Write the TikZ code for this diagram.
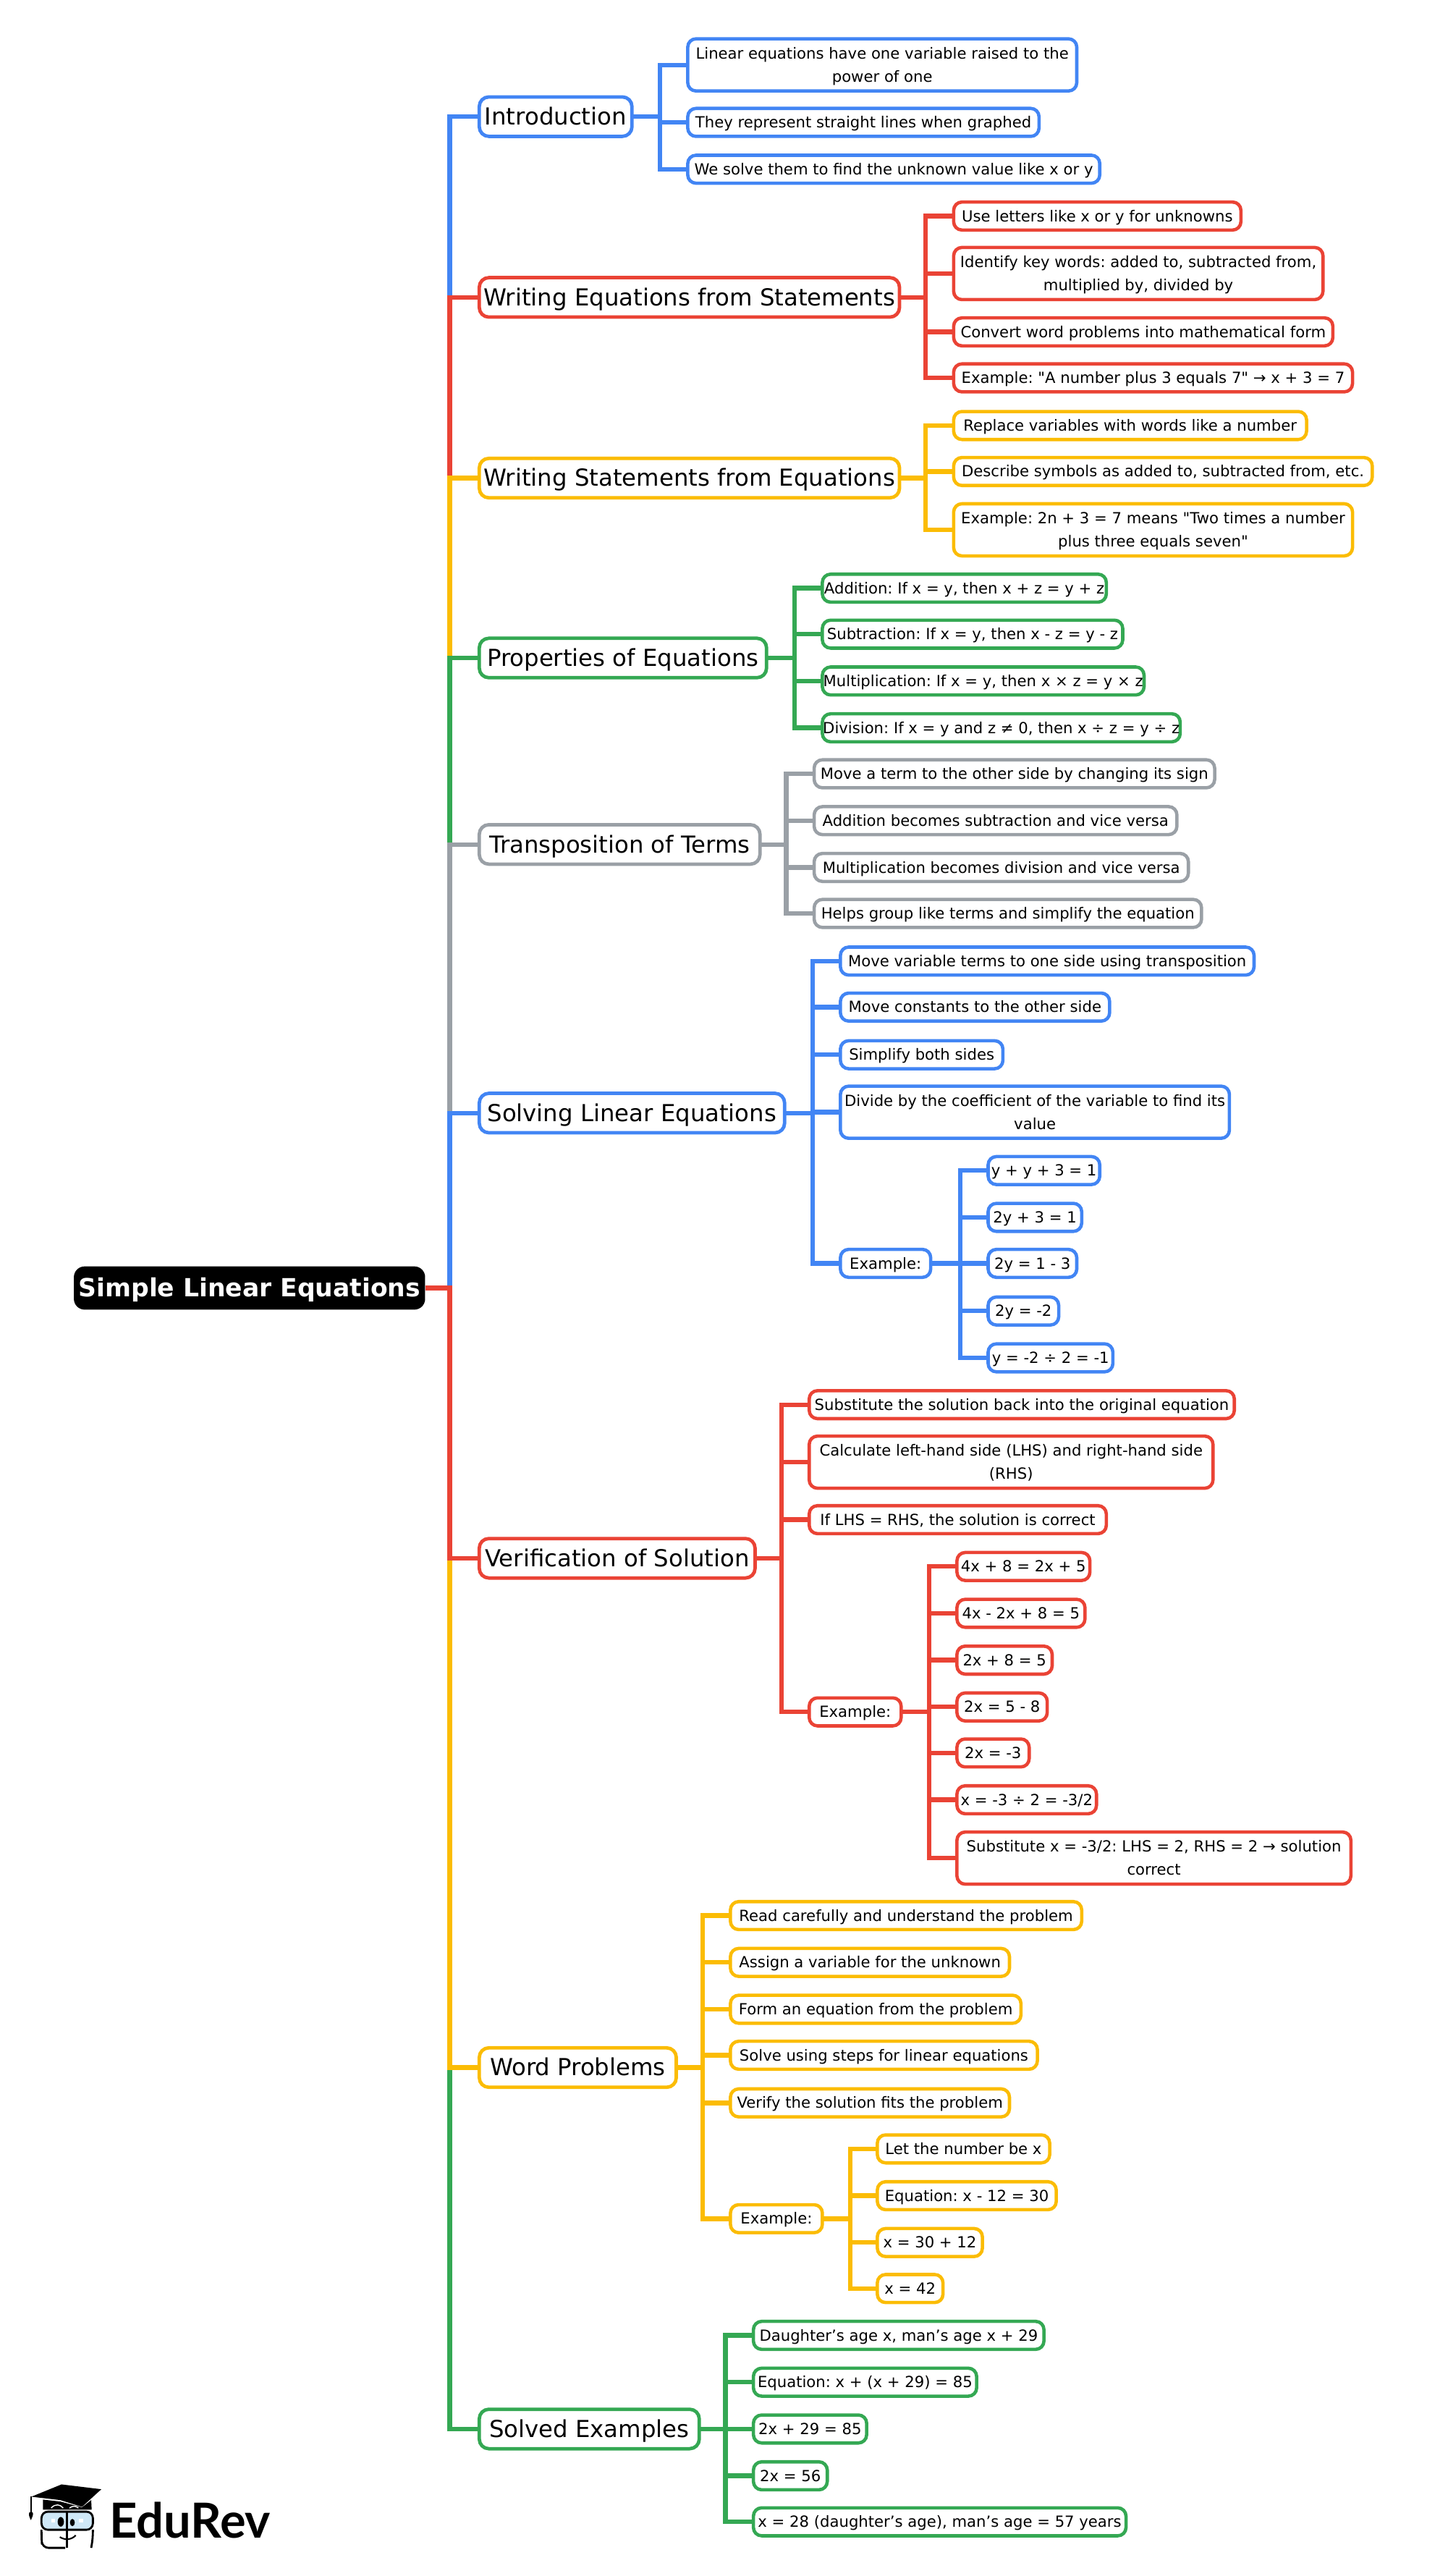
\documentclass[tikz,border=0pt]{standalone}
\usepackage{fontspec}
\setmainfont{DejaVu Sans}[Ligatures=TeXOff]
\newfontfamily\logofont{Lato}
\usepackage{tikz}
\definecolor{mmblue}{HTML}{4285F4}
\definecolor{mmred}{HTML}{EA4335}
\definecolor{mmyellow}{HTML}{FBBC04}
\definecolor{mmgreen}{HTML}{34A853}
\definecolor{mmgrey}{HTML}{9AA0A6}
\definecolor{mmglass}{HTML}{CFE8F7}
\tikzset{
  wd/.style={minimum width=#1*0.04537cm},
  rootnode/.style={fill=black,text=white,rounded corners=8.5pt,inner sep=0pt,
    minimum height=34pt,text height=16pt,text depth=2pt,
    font=\fontsize{19.65}{23}\selectfont\bfseries},
  topic/.style={draw=#1,line width=2.7pt,rounded corners=7.5pt,anchor=west,inner sep=0pt,
    outer sep=0pt,minimum height=31pt,text height=15pt,text depth=2pt,
    font=\fontsize{18.4}{22}\selectfont},
  leaf/.style={draw=#1,line width=2.6pt,rounded corners=6.5pt,anchor=west,inner sep=0pt,
    outer sep=0pt,minimum height=22pt,text height=10.3pt,text depth=1.7pt,
    font=\fontsize{12.05}{18.2}\selectfont},
  leaftwo/.style={draw=#1,line width=2.6pt,rounded corners=6.5pt,anchor=west,inner sep=0pt,
    outer sep=0pt,minimum height=41pt,align=center,text height=27pt,text depth=0pt,
    font=\fontsize{12.05}{18.2}\selectfont},
  link/.style={draw=#1,line width=3.6pt},
}
\frenchspacing
\begin{document}
\begin{tikzpicture}[x=0.04537cm,y=-0.0454cm]
    \useasboundingbox (0,0) rectangle (882,1568); % Keeps the page size

    \node[rootnode,wd=214] (root) at (152,784) {Simple Linear Equations};
    \coordinate (trunk) at (274,784);

    % the nine topics
    \node[topic=mmblue,wd=93] (intro) at (292,71) {Introduction};
    \node[topic=mmred,wd=256] (wrEq) at (292,181) {Writing Equations from Statements};
    \node[topic=mmyellow,wd=256] (wrSt) at (292,291) {Writing Statements from Equations};
    \node[topic=mmgreen,wd=175] (prop) at (292,400.5) {Properties of Equations};
    \node[topic=mmgrey,wd=171] (trans) at (292,514) {Transposition of Terms};
    \node[topic=mmblue,wd=186] (solve) at (292,677.5) {Solving Linear Equations};
    \node[topic=mmred,wd=168] (verif) at (292,948.5) {Verification of Solution};
    \node[topic=mmyellow,wd=120] (word) at (292,1258.5) {Word Problems};
    \node[topic=mmgreen,wd=134] (solved) at (292,1478.5) {Solved Examples};

    % Introduction
    \coordinate (introBus) at (402,71);
    \node[leaftwo=mmblue,wd=237] (introA) at (419,39.5) {Linear equations have one variable raised to the\\power of one};
    \node[leaf=mmblue,wd=214] (introB) at (419,74.5) {They represent straight lines when graphed};
    \node[leaf=mmblue,wd=251] (introC) at (419,103) {We solve them to find the unknown value like x or y};

    % Writing Equations from Statements
    \coordinate (wrEqBus) at (564,181);
    \node[leaf=mmred,wd=175] (wrEqA) at (581,131.5) {Use letters like x or y for unknowns};
    \node[leaftwo=mmred,wd=225] (wrEqB) at (581,166.5) {Identify key words: added to, subtracted from,\\multiplied by, divided by};
    \node[leaf=mmred,wd=231] (wrEqC) at (581,202) {Convert word problems into mathematical form};
    \node[leaf=mmred,wd=243] (wrEqD) at (581,230) {Example: "A number plus 3 equals 7" → x + 3 = 7};

    % Writing Statements from Equations
    \coordinate (wrStBus) at (564,291);
    \node[leaf=mmyellow,wd=215] (wrStA) at (581,259) {Replace variables with words like a number};
    \node[leaf=mmyellow,wd=255] (wrStB) at (581,287) {Describe symbols as added to, subtracted from, etc.};
    \node[leaftwo=mmyellow,wd=243] (wrStC) at (581,322.5) {Example: 2n + 3 = 7 means "Two times a number\\plus three equals seven"};

    % Properties of Equations
    \coordinate (propBus) at (484,400.5);
    \node[leaf=mmgreen,wd=173] (propA) at (501,358) {Addition: If x = y, then x + z = y + z};
    \node[leaf=mmgreen,wd=183] (propB) at (501,386) {Subtraction: If x = y, then x - z = y - z};
    \node[leaf=mmgreen,wd=196] (propC) at (501,414.5) {Multiplication: If x = y, then x × z = y × z};
    \node[leaf=mmgreen,wd=218] (propD) at (501,443) {Division: If x = y and z ≠ 0, then x ÷ z = y ÷ z};

    % Transposition of Terms
    \coordinate (transBus) at (479,514);
    \node[leaf=mmgrey,wd=244] (transA) at (496,471) {Move a term to the other side by changing its sign};
    \node[leaf=mmgrey,wd=221] (transB) at (496,499.5) {Addition becomes subtraction and vice versa};
    \node[leaf=mmgrey,wd=228] (transC) at (496,528) {Multiplication becomes division and vice versa};
    \node[leaf=mmgrey,wd=236] (transD) at (496,556) {Helps group like terms and simplify the equation};

    % Solving Linear Equations
    \coordinate (solveBus) at (495,677.5);
    \node[leaf=mmblue,wd=252] (solveA) at (512,585) {Move variable terms to one side using transposition};
    \node[leaf=mmblue,wd=164] (solveB) at (512,613) {Move constants to the other side};
    \node[leaf=mmblue,wd=99] (solveC) at (512,642) {Simplify both sides};
    \node[leaftwo=mmblue,wd=237] (solveD) at (512,677) {Divide by the coefficient of the variable to find its\\value};
    \node[leaf=mmblue,wd=55] (solveE) at (512,769) {Example:};
    \coordinate (solveEBus) at (585,769);
    \node[leaf=mmblue,wd=68] (solveEa) at (602,712.5) {y + y + 3 = 1};
    \node[leaf=mmblue,wd=57] (solveEb) at (602,741) {2y + 3 = 1};
    \node[leaf=mmblue,wd=54] (solveEc) at (602,769) {2y = 1 - 3};
    \node[leaf=mmblue,wd=43] (solveEd) at (602,798) {2y = -2};
    \node[leaf=mmblue,wd=76] (solveEe) at (602,826.5) {y = -2 ÷ 2 = -1};

    % Verification of Solution
    \coordinate (verifBus) at (476,948.5);
    \node[leaf=mmred,wd=259] (verifA) at (493,855) {Substitute the solution back into the original equation};
    \node[leaftwo=mmred,wd=246] (verifB) at (493,890) {Calculate left-hand side (LHS) and right-hand side\\(RHS)};
    \node[leaf=mmred,wd=181] (verifC) at (493,925) {If LHS = RHS, the solution is correct};
    \node[leaf=mmred,wd=56] (verifD) at (493,1042) {Example:};
    \coordinate (verifDBus) at (566,1042);
    \node[leaf=mmred,wd=81] (verifDa) at (583,953.5) {4x + 8 = 2x + 5};
    \node[leaf=mmred,wd=78] (verifDb) at (583,982) {4x - 2x + 8 = 5};
    \node[leaf=mmred,wd=58] (verifDc) at (583,1010.5) {2x + 8 = 5};
    \node[leaf=mmred,wd=55] (verifDd) at (583,1039) {2x = 5 - 8};
    \node[leaf=mmred,wd=44] (verifDe) at (583,1067) {2x = -3};
    \node[leaf=mmred,wd=85] (verifDf) at (583,1095.5) {x = -3 ÷ 2 = -3/2};
    \node[leaftwo=mmred,wd=240] (verifDg) at (583,1131) {Substitute x = -3/2: LHS = 2, RHS = 2 → solution\\correct};

    % Word Problems
    \coordinate (wordBus) at (428,1258.5);
    \node[leaf=mmyellow,wd=214] (wordA) at (445,1166) {Read carefully and understand the problem};
    \node[leaf=mmyellow,wd=170] (wordB) at (445,1194.5) {Assign a variable for the unknown};
    \node[leaf=mmyellow,wd=177] (wordC) at (445,1223) {Form an equation from the problem};
    \node[leaf=mmyellow,wd=187] (wordD) at (445,1251) {Solve using steps for linear equations};
    \node[leaf=mmyellow,wd=170] (wordE) at (445,1280) {Verify the solution fits the problem};
    \node[leaf=mmyellow,wd=56] (wordF) at (445,1350.5) {Example:};
    \coordinate (wordFBus) at (518,1350.5);
    \node[leaf=mmyellow,wd=105] (wordFa) at (534.5,1308) {Let the number be x};
    \node[leaf=mmyellow,wd=109] (wordFb) at (534.5,1336.5) {Equation: x - 12 = 30};
    \node[leaf=mmyellow,wd=64] (wordFc) at (534.5,1365) {x = 30 + 12};
    \node[leaf=mmyellow,wd=40] (wordFd) at (534.5,1393) {x = 42};

    % Solved Examples
    \coordinate (solvedBus) at (442,1478.5);
    \node[leaf=mmgreen,wd=177] (solvedA) at (459,1421.5) {Daughter’s age x, man’s age x + 29};
    \node[leaf=mmgreen,wd=136] (solvedB) at (459,1450) {Equation: x + (x + 29) = 85};
    \node[leaf=mmgreen,wd=69] (solvedC) at (459,1478.5) {2x + 29 = 85};
    \node[leaf=mmgreen,wd=45] (solvedD) at (459,1507) {2x = 56};
    \node[leaf=mmgreen,wd=227] (solvedE) at (459,1535) {x = 28 (daughter’s age), man’s age = 57 years};

    % Later colours lie over earlier ones on the trunk
    \foreach \kid/\col in {intro/mmblue,wrEq/mmred,wrSt/mmyellow,prop/mmgreen,trans/mmgrey,
        solve/mmblue,solved/mmgreen,word/mmyellow,verif/mmred}{
      \draw[link=\col] (root.east) -- (trunk) |- (\kid.west);
    }
    \foreach \top/\col/\kids in {intro/mmblue/{introA,introB,introC},
        wrEq/mmred/{wrEqA,wrEqB,wrEqC,wrEqD},
        wrSt/mmyellow/{wrStA,wrStB,wrStC},
        prop/mmgreen/{propA,propB,propC,propD},
        trans/mmgrey/{transA,transB,transC,transD},
        solve/mmblue/{solveA,solveB,solveC,solveD,solveE},
        solveE/mmblue/{solveEa,solveEb,solveEc,solveEd,solveEe},
        verif/mmred/{verifA,verifB,verifC,verifD},
        verifD/mmred/{verifDa,verifDb,verifDc,verifDd,verifDe,verifDf,verifDg},
        word/mmyellow/{wordA,wordB,wordC,wordD,wordE,wordF},
        wordF/mmyellow/{wordFa,wordFb,wordFc,wordFd},
        solved/mmgreen/{solvedA,solvedB,solvedC,solvedD,solvedE}}{
      \foreach \kid in \kids {
        \draw[link=\col] (\top.east) -- (\top Bus) |- (\kid.west);
      }
    }

    % EduRev logo, in units of a third of a pixel
    \begin{scope}[x=0.006667cm,y=-0.006667cm,shift={(0cm,-67cm)}]
      \fill (130,298) -- (255,247) -- (420,267) -- (340,340) -- (250,312) -- cycle;
      \fill (178,310) -- (178,352) -- (380,352) -- (378,312) -- (340,342) -- (250,318) -- cycle;
      \draw[white,line width=0.8pt] (212,345) .. controls (230,325) and (250,330) .. (262,345);
      \draw[white,line width=0.8pt] (288,345) .. controls (300,335) and (315,335) .. (325,345);
      \draw[line width=1.2pt] (128,298) -- (128,362);
      \fill (128,395) .. controls (120,380) and (118,370) .. (122,362) -- (135,362)
        .. controls (140,370) and (135,380) .. (128,395);
      \draw[fill=mmglass,line width=1.6pt,rounded corners=5pt] (172,360) rectangle (385,435);
      \fill[white] (212,390) rectangle (228,405);
      \fill[white] (328,390) rectangle (344,405);
      \fill (252,402) ellipse [x radius=13,y radius=20];
      \fill (300,405) ellipse [x radius=10,y radius=15];
      \draw[line width=1.6pt,rounded corners=5pt] (270,510) -- (175,510) -- (172,470) -- (172,435);
      \draw[line width=1.6pt,rounded corners=5pt] (378,510) -- (385,470) -- (385,435);
      \draw[line width=1.6pt] (278,360) -- (278,510);
      \draw[line width=1.2pt] (248,465) .. controls (268,478) and (295,478) .. (314,458);
      \node[anchor=base west,inner sep=0pt,font=\fontsize{38}{40}\logofont\bfseries] (logoText) at (452,470) {EduRev};
    \end{scope}
\end{tikzpicture}
\end{document}
